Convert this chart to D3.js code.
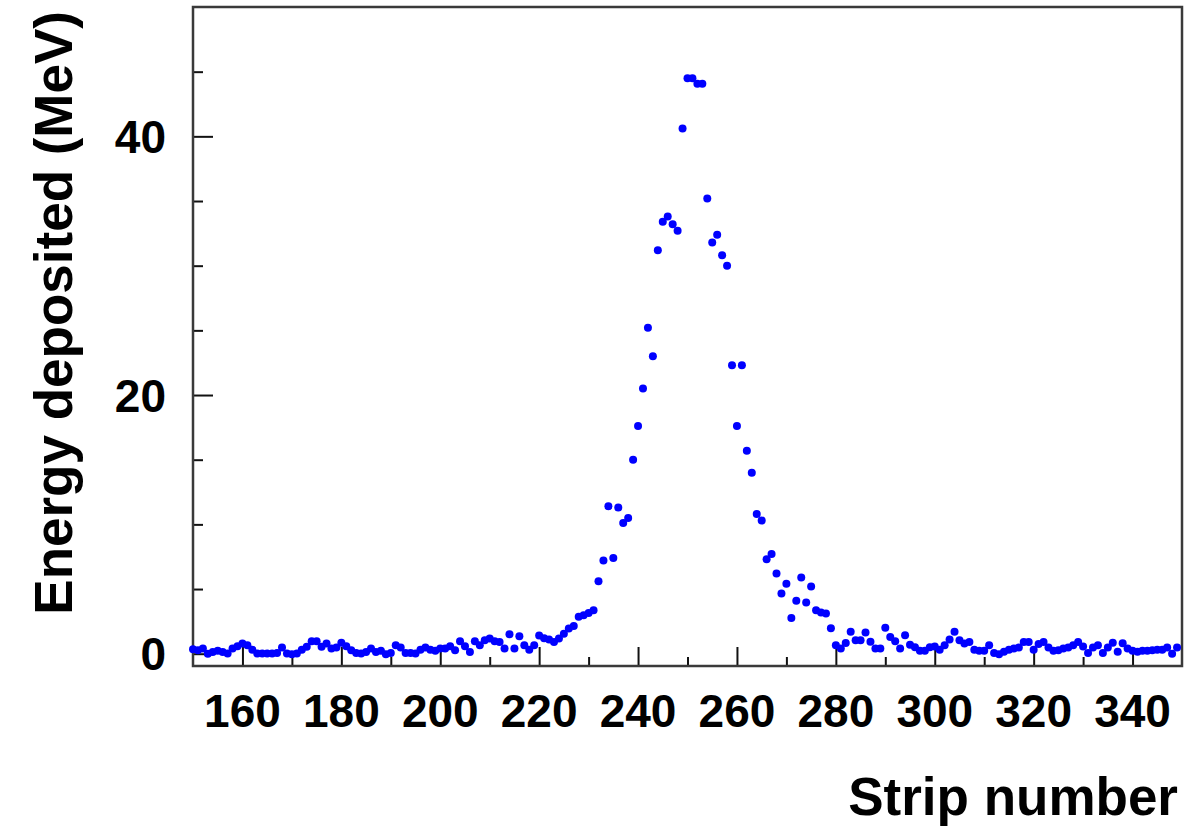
<!DOCTYPE html>
<html>
<head>
<meta charset="utf-8">
<title>Energy deposited per strip</title>
<script src="https://d3js.org/d3.v7.min.js"></script>
<style>
    body { margin: 0; background: #fff; }
    svg text { font-family: "Liberation Sans", Arial, Helvetica, sans-serif; font-weight: bold; fill: #000; }
</style>
</head>
<body>
<svg width="1201" height="826"></svg>
<script>
// strip numbers run from firstStrip upward, one value per strip
const firstStrip = 150;
const energy = [
    0.35, 0.27, 0.4, 0.0, 0.14, 0.22, 0.14, 0.01, 0.4, 0.58,      // 150-159
    0.79, 0.66, 0.3, 0.01, 0.01, 0.01, 0.01, 0.05, 0.48, 0.01,    // 160-169
    -0.05, 0.01, 0.3, 0.53, 0.96, 0.96, 0.53, 0.79, 0.4, 0.48,    // 170-179
    0.84, 0.58, 0.27, 0.05, 0.01, 0.14, 0.4, 0.14, 0.22, -0.05,   // 180-189
    0.05, 0.66, 0.48, 0.05, 0.05, 0.01, 0.3, 0.48, 0.3, 0.22,     // 190-199
    0.4, 0.4, 0.58, 0.27, 0.96, 0.58, 0.14, 0.96, 0.66, 1.04,     // 200-209
    1.17, 0.96, 0.9, 0.4, 1.5, 0.4, 1.35, 0.66, 0.3, 0.66,        // 210-219
    1.4, 1.2, 1.1, 0.9, 1.17, 1.55, 1.95, 2.15, 2.85, 2.97,       // 220-229
    3.15, 3.36, 5.6, 7.2, 11.4, 7.4, 11.3, 10.1, 10.5, 15.0,      // 230-239
    17.6, 20.5, 25.2, 23.0, 31.2, 33.4, 33.8, 33.2, 32.7, 40.6,   // 240-249
    44.5, 44.5, 44.06, 44.06, 35.2, 31.8, 32.4, 30.8, 30.0, 22.3, // 250-259
    17.6, 22.3, 15.7, 14.0, 10.8, 10.3, 7.3, 7.7, 6.2, 4.65,      // 260-269
    5.4, 2.77, 4.1, 5.9, 3.95, 5.2, 3.36, 3.18, 3.1, 1.97,        // 270-279
    0.66, 0.4, 0.83, 1.69, 1.04, 1.04, 1.64, 0.92, 0.4, 0.4,      // 280-289
    2.0, 1.3, 0.97, 0.4, 1.43, 0.7, 0.5, 0.22, 0.22, 0.5,         // 290-299
    0.55, 0.3, 0.66, 1.1, 1.7, 1.04, 0.79, 0.9, 0.3, 0.22,        // 300-309
    0.22, 0.66, 0.05, -0.05, 0.15, 0.3, 0.4, 0.48, 0.9, 0.9,      // 310-319
    0.3, 0.75, 0.9, 0.48, 0.22, 0.27, 0.4, 0.48, 0.66, 0.9,       // 320-329
    0.55, 0.05, 0.48, 0.66, 0.05, 0.48, 0.85, 0.15, 0.8, 0.4,     // 330-339
    0.22, 0.15, 0.22, 0.22, 0.27, 0.3, 0.3, 0.48, 0.0, 0.48       // 340-349
];
const xMajorTicks = [160, 180, 200, 220, 240, 260, 280, 300, 320, 340];
const xMinorTicks = [170, 190, 210, 230, 250, 270, 290, 310, 330];
const yMajorTicks = [0, 20, 40];
const yMinorTicks = [5, 10, 15, 25, 30, 35, 45];

const points = energy.map((v, i) => ({ strip: firstStrip + i, e: v }));

const svg = d3.select("svg");
const plotLeft = 193, plotRight = 1182, plotTop = 7, plotBottom = 666;

const x = d3.scaleLinear().domain([150, 350]).range([plotLeft, plotRight]);
const y = d3.scaleLinear().domain([-0.95, 50]).range([plotBottom, plotTop]);

// ticks point inward
const xMajor = svg.append("g").attr("transform", "translate(0," + plotBottom + ")")
    .call(d3.axisTop(x).tickValues(xMajorTicks).tickSize(19).tickFormat(""));
const xMinor = svg.append("g").attr("transform", "translate(0," + plotBottom + ")")
    .call(d3.axisTop(x).tickValues(xMinorTicks).tickSize(9).tickFormat(""));
const yMajor = svg.append("g").attr("transform", "translate(" + plotLeft + ",0)")
    .call(d3.axisRight(y).tickValues(yMajorTicks).tickSize(20).tickFormat(""));
const yMinor = svg.append("g").attr("transform", "translate(" + plotLeft + ",0)")
    .call(d3.axisRight(y).tickValues(yMinorTicks).tickSize(10).tickFormat(""));
[xMajor, xMinor, yMajor, yMinor].forEach(g => {
    g.select(".domain").remove();
    g.selectAll(".tick line").attr("stroke", "#111").attr("stroke-width", 2);
});

// tick labels
svg.append("g").selectAll("text")
    .data(xMajorTicks)
    .enter().append("text")
    .attr("x", d => x(d))
    .attr("y", 727)
    .attr("text-anchor", "middle")
    .style("font-size", "46px")
    .text(d => d);

svg.append("g").selectAll("text")
    .data(yMajorTicks)
    .enter().append("text")
    .attr("x", 166)
    .attr("y", d => y(d))
    .attr("dy", "0.36em")
    .attr("text-anchor", "end")
    .style("font-size", "46px")
    .text(d => d);

// frame
svg.append("rect")
    .attr("x", plotLeft).attr("y", plotTop)
    .attr("width", plotRight - plotLeft).attr("height", plotBottom - plotTop)
    .attr("fill", "none")
    .attr("stroke", "#3a3a3a")
    .attr("stroke-width", 2.5);

// data points
svg.append("g").selectAll("circle")
    .data(points)
    .enter().append("circle")
    .attr("cx", d => x(d.strip))
    .attr("cy", d => y(d.e))
    .attr("r", 4)
    .attr("fill", "#0000ff");

// axis titles
svg.append("text")
    .attr("x", 1178)
    .attr("y", 815)
    .attr("text-anchor", "end")
    .style("font-size", "53px")
    .text("Strip number");

svg.append("text")
    .attr("transform", "translate(72,11) rotate(-90)")
    .attr("text-anchor", "end")
    .style("font-size", "53px")
    .text("Energy deposited (MeV)");
</script>
</body>
</html>
